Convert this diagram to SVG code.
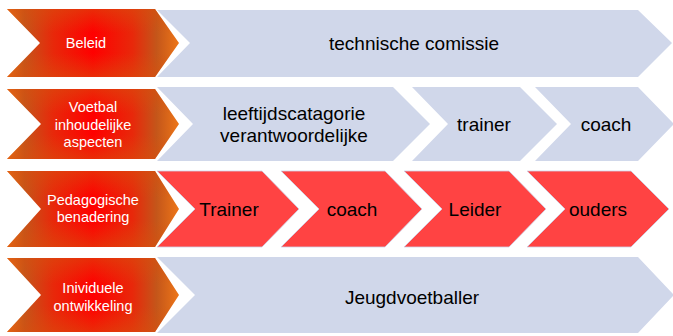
<svg xmlns="http://www.w3.org/2000/svg" width="673" height="336" viewBox="0 0 673 336">
  <defs>
    <!-- heading chevrons: red core, brown band and orange rim towards the ends -->
    <linearGradient id="headFill" x1="0" y1="0" x2="1" y2="0">
      <stop offset="0" stop-color="#ee7618"/>
      <stop offset="0.1" stop-color="#c4561a"/>
      <stop offset="0.27" stop-color="#e8280a"/>
      <stop offset="0.5" stop-color="#ff0000"/>
      <stop offset="0.73" stop-color="#e8280a"/>
      <stop offset="0.87" stop-color="#c4561a"/>
      <stop offset="1" stop-color="#ee7618"/>
    </linearGradient>
    <!-- softens the top and bottom edges towards orange -->
    <linearGradient id="headEdge" x1="0" y1="0" x2="0" y2="1">
      <stop offset="0" stop-color="#d8500e" stop-opacity="0.55"/>
      <stop offset="0.35" stop-color="#d8500e" stop-opacity="0"/>
      <stop offset="0.65" stop-color="#d8500e" stop-opacity="0"/>
      <stop offset="1" stop-color="#d8500e" stop-opacity="0.55"/>
    </linearGradient>
    <style>
      .head { fill: url(#headFill); }
      .edge { fill: url(#headEdge); }
      .blue { fill: #d0d7ea; }
      .red { fill: #ff4343; stroke: #cdd3e8; stroke-width: 0.8; }
      .lbl { font-family: "Liberation Sans", Arial, sans-serif; font-size: 14.5px; fill: #ffffff; text-anchor: middle; }
      .txt { font-family: "Liberation Sans", Arial, sans-serif; font-size: 19px; fill: #000000; text-anchor: middle; }
    </style>
    <polygon id="head1" points="7,9 155,9 179,43 155,77 7,77 40,43"/>
    <polygon id="head2" points="7,89 155,89 179,124 155,159 7,159 41,124"/>
    <polygon id="head3" points="7,171 155,171 179,209 155,247 7,247 41,209"/>
    <polygon id="head4" points="7,258 155,258 179,295 155,332 7,332 41,295"/>
  </defs>
  <rect width="673" height="336" fill="#ffffff"/>

  <!-- row 1 -->
  <g id="beleid">
    <use href="#head1" class="head"/>
    <use href="#head1" class="edge"/>
    <text class="lbl" x="86" y="48">Beleid</text>
  </g>
  <g id="technische-comissie">
    <polygon class="blue" points="157,10 638,10 672,43 638,77 157,77 190,43"/>
    <text class="txt" x="414" y="50">technische comissie</text>
  </g>

  <!-- row 2 -->
  <g id="voetbal">
    <use href="#head2" class="head"/>
    <use href="#head2" class="edge"/>
    <text class="lbl" x="93" y="112">Voetbal</text>
    <text class="lbl" x="93" y="130">inhoudelijke</text>
    <text class="lbl" x="93" y="147">aspecten</text>
  </g>
  <g id="leeftijdscatagorie">
    <polygon class="blue" points="157,87 393,87 430,124 393,161 157,161 193,124"/>
    <text class="txt" x="294" y="120">leeftijdscatagorie</text>
    <text class="txt" x="294" y="142">verantwoordelijke</text>
  </g>
  <g id="trainer-2">
    <polygon class="blue" points="412,87 520,87 557,124 520,161 412,161 448,124"/>
    <text class="txt" x="484" y="131">trainer</text>
  </g>
  <g id="coach-2">
    <polygon class="blue" points="535,87 638,87 674,124 638,161 535,161 571,124"/>
    <text class="txt" x="606" y="131">coach</text>
  </g>

  <!-- row 3 -->
  <g id="pedagogische">
    <use href="#head3" class="head"/>
    <use href="#head3" class="edge"/>
    <text class="lbl" x="93" y="205">Pedagogische</text>
    <text class="lbl" x="93" y="222">benadering</text>
  </g>
  <g id="trainer-3">
    <polygon class="red" points="157,171 262,171 299,209 262,247 157,247 195,209"/>
    <text class="txt" x="229" y="216">Trainer</text>
  </g>
  <g id="coach-3">
    <polygon class="red" points="281,171 385,171 422,209 385,247 281,247 319,209"/>
    <text class="txt" x="352" y="216">coach</text>
  </g>
  <g id="leider">
    <polygon class="red" points="404,171 509,171 546,209 509,247 404,247 442,209"/>
    <text class="txt" x="475" y="216">Leider</text>
  </g>
  <g id="ouders">
    <polygon class="red" points="527,171 631,171 669,209 631,247 527,247 565,209"/>
    <text class="txt" x="598" y="216">ouders</text>
  </g>

  <!-- row 4 -->
  <g id="individuele">
    <use href="#head4" class="head"/>
    <use href="#head4" class="edge"/>
    <text class="lbl" x="93" y="293">Inividuele</text>
    <text class="lbl" x="93" y="311">ontwikkeling</text>
  </g>
  <g id="jeugdvoetballer">
    <polygon class="blue" points="157,257 638,257 674,295 638,333 157,333 195,295"/>
    <text class="txt" x="412" y="304">Jeugdvoetballer</text>
  </g>

  <!-- the chevrons abut directly; no separate connector lines -->
  <g id="connectors"/>
</svg>
